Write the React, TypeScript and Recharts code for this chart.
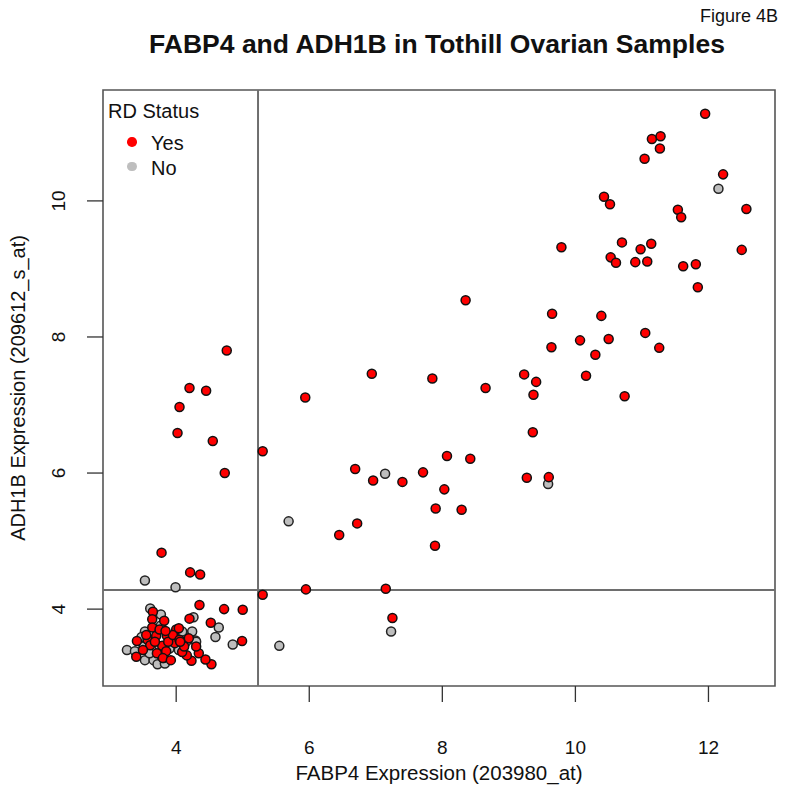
import React from "react";
import {
  Label,
  Legend,
  ReferenceArea,
  ReferenceLine,
  Scatter,
  ScatterChart,
  XAxis,
  YAxis,
  ZAxis
} from "recharts";

const font = "'Liberation Sans', Arial, sans-serif";

const xTicks = [4, 6, 8, 10, 12];
const yTicks = [4, 6, 8, 10];
const xDomain = [2.9, 13.0];
const yDomain = [2.87, 11.63];
const fabp4Cut = 5.23;
const adh1bCut = 4.28;

const statusLabels = ["Yes", "No"];
const statusColors = ["#ff0000", "#bebebe"];

// RD status = Yes
const yesFabp4 = [
  11.95, 11.15, 11.28, 11.27, 11.04, 12.22, 10.43, 10.52, 11.54, 11.59, 12.57, 9.79, 10.7, 11.14, 10.98,
  10.53, 10.61, 10.9, 11.08, 11.62, 11.81, 12.5, 11.84, 9.65, 10.39, 11.05, 10.07, 10.5, 9.64, 11.26, 10.3,
  9.23, 9.41, 10.16, 9.37, 10.74, 8.65,
  8.35, 6.94, 7.85, 5.94, 9.36, 9.27, 9.6, 6.69, 6.96, 7.4, 7.71, 8.07, 8.42, 8.03, 7.9, 8.29, 6.72, 6.45,
  7.89, 5.3, 5.95, 7.15, 7.25, 5.3,
  4.76, 4.2, 4.45, 4.05, 4.02, 4.55, 4.73,
  3.78, 4.21, 4.36, 4.35, 4.72, 5.0, 4.2, 4.52, 4.99, 4.53, 4.44, 4.34, 4.23, 4.16, 4.09, 4.19,
  3.65, 3.64, 3.64, 3.41, 3.57, 3.7, 3.86, 3.61, 3.79, 3.98, 3.4, 3.71, 3.85, 3.88, 3.75, 3.55, 4.0, 3.95,
  4.05, 3.8, 4.12, 3.68, 3.5, 4.3, 3.92, 3.82, 4.04, 4.06, 3.84
];
const yesAdh1b = [
  11.28, 10.91, 10.95, 10.77, 10.62, 10.39, 10.06, 9.95, 9.87, 9.76, 9.88, 9.32, 9.39, 9.37, 9.29,
  9.17, 9.09, 9.1, 9.11, 9.04, 9.07, 9.28, 8.73, 8.34, 8.31, 8.06, 7.95, 7.97, 7.85, 7.84, 7.74,
  7.45, 7.34, 7.43, 7.15, 7.13, 7.25,
  8.54, 7.46, 7.39, 7.11, 6.6, 5.93, 5.94, 6.06, 5.89, 5.87, 6.01, 6.25, 6.21, 5.76, 5.48, 5.46, 5.26, 5.09,
  4.93, 4.21, 4.29, 4.3, 3.87, 6.32,
  7.8, 7.25, 7.21, 6.97, 6.59, 6.47, 6.0,
  4.83, 4.54, 4.51, 4.06, 4.0, 3.99, 3.86, 3.8, 3.53, 3.19, 3.26, 3.35, 3.24, 3.32, 3.37, 3.57,
  3.96, 3.85, 3.73, 3.53, 3.55, 3.61, 3.61, 3.47, 3.46, 3.5, 3.3, 3.35, 3.38, 3.52, 3.7, 3.62, 3.7, 3.62,
  3.55, 3.28, 3.45, 3.52, 3.4, 3.45, 3.25, 3.83, 3.72, 3.52, 3.68
];

// RD status = No
const noFabp4 = [
  12.15, 7.14, 5.69, 9.59, 7.23, 5.55, 3.53, 3.99, 4.26, 4.64, 4.59, 4.85, 4.24, 4.29, 4.11, 4.1,
  3.61, 3.77, 3.77, 3.53, 3.48, 3.51, 3.94, 3.26, 3.53, 3.66, 3.72, 3.83, 4.09, 4.15, 3.9, 3.6, 3.75,
  3.72, 3.38, 3.81, 4.04, 4.3
];
const noAdh1b = [
  10.18, 5.99, 5.29, 5.84, 3.67, 3.46, 4.42, 4.32, 3.88, 3.73, 3.59, 3.48, 3.67, 3.54, 3.64, 3.45,
  4.01, 3.92, 3.76, 3.67, 3.59, 3.45, 3.52, 3.4, 3.25, 3.25, 3.19, 3.2, 3.67, 3.52, 3.42, 3.35, 3.45,
  3.68, 3.38, 3.28, 3.4, 3.52
];

const yesData = yesFabp4.map((x, i) => ({ x, y: yesAdh1b[i] }));
const noData = noFabp4.map((x, i) => ({ x, y: noAdh1b[i] }));

function YTick(props: any) {
  const bx = props.x - 22;
  return (
    <text
      x={bx}
      y={props.y}
      transform={`rotate(-90, ${bx}, ${props.y})`}
      textAnchor="middle"
      fontSize={19}
      fontFamily={font}
      fill="#111"
    >
      {props.payload.value}
    </text>
  );
}

function StatusLegend() {
  return (
    <div style={{ position: "relative", fontFamily: font, fontSize: 20, lineHeight: "20px", color: "#111" }}>
      <div style={{ position: "absolute", left: 108, top: 101, whiteSpace: "nowrap" }}>RD Status</div>
      {statusLabels.map((label, i) => (
        <React.Fragment key={label}>
          <div
            style={{
              position: "absolute",
              left: 127,
              top: 137 + i * 24.5,
              width: 9.5,
              height: 9.5,
              borderRadius: "50%",
              background: statusColors[i]
            }}
          />
          <div style={{ position: "absolute", left: 151, top: 133 + i * 24.5 }}>{label}</div>
        </React.Fragment>
      ))}
    </div>
  );
}

export default function App() {
  return (
    <div style={{ position: "absolute", left: 0, top: 0, width: 800, height: 796, background: "#fff" }}>
      <div
        style={{
          position: "absolute",
          left: 0,
          top: 7,
          width: 778,
          textAlign: "right",
          fontFamily: "'Liberation Sans Narrow', " + font,
          fontSize: 18,
          lineHeight: "18px",
          color: "#111"
        }}
      >
        Figure 4B
      </div>
      <div
        style={{
          position: "absolute",
          left: 0,
          top: 31,
          width: 874,
          textAlign: "center",
          fontFamily: font,
          fontWeight: "bold",
          fontSize: 26.5,
          lineHeight: "26px",
          color: "#111"
        }}
      >
        FABP4 and ADH1B in Tothill Ovarian Samples
      </div>
      <ScatterChart width={800} height={796} margin={{ top: 90, right: 25, bottom: 0, left: 0 }}>
        <XAxis
          type="number"
          dataKey="x"
          domain={xDomain}
          ticks={xTicks}
          allowDataOverflow
          axisLine={false}
          tickSize={16}
          tickMargin={39}
          tickLine={{ stroke: "#333", strokeWidth: 1.3 }}
          tick={{ fontSize: 19, fontFamily: font, fill: "#111" }}
          height={110}
        >
          <Label
            value="FABP4 Expression (203980_at)"
            position="insideBottom"
            offset={16}
            style={{ fontSize: 20.5, fontFamily: font, fill: "#111" }}
          />
        </XAxis>
        <YAxis
          type="number"
          dataKey="y"
          domain={yDomain}
          ticks={yTicks}
          allowDataOverflow
          axisLine={false}
          tickSize={16}
          tickMargin={0}
          tickLine={{ stroke: "#333", strokeWidth: 1.3 }}
          tick={<YTick />}
          width={103}
        >
          <Label
            value="ADH1B Expression (209612_s_at)"
            angle={-90}
            position="insideLeft"
            offset={18}
            textAnchor="middle"
            style={{ fontSize: 20, fontFamily: font, fill: "#111", textAnchor: "middle" }}
          />
        </YAxis>
        <ZAxis range={[110, 110]} />
        <ReferenceArea
          x1={xDomain[0]}
          x2={xDomain[1]}
          y1={yDomain[0]}
          y2={yDomain[1]}
          fill="none"
          fillOpacity={0}
          stroke="#555"
          strokeWidth={1.6}
        />
        <ReferenceLine x={fabp4Cut} stroke="#6e6e6e" strokeWidth={2} />
        <ReferenceLine y={adh1bCut} stroke="#6e6e6e" strokeWidth={2} />
        <Scatter
          name="No"
          data={noData}
          fill={statusColors[1]}
          stroke="#222"
          strokeWidth={1.5}
          isAnimationActive={false}
        />
        <Scatter
          name="Yes"
          data={yesData}
          fill={statusColors[0]}
          stroke="#111"
          strokeWidth={1.5}
          isAnimationActive={false}
        />
        <Legend
          content={<StatusLegend />}
          wrapperStyle={{ position: "absolute", left: 0, top: 0, width: 0, height: 0 }}
        />
      </ScatterChart>
    </div>
  );
}
